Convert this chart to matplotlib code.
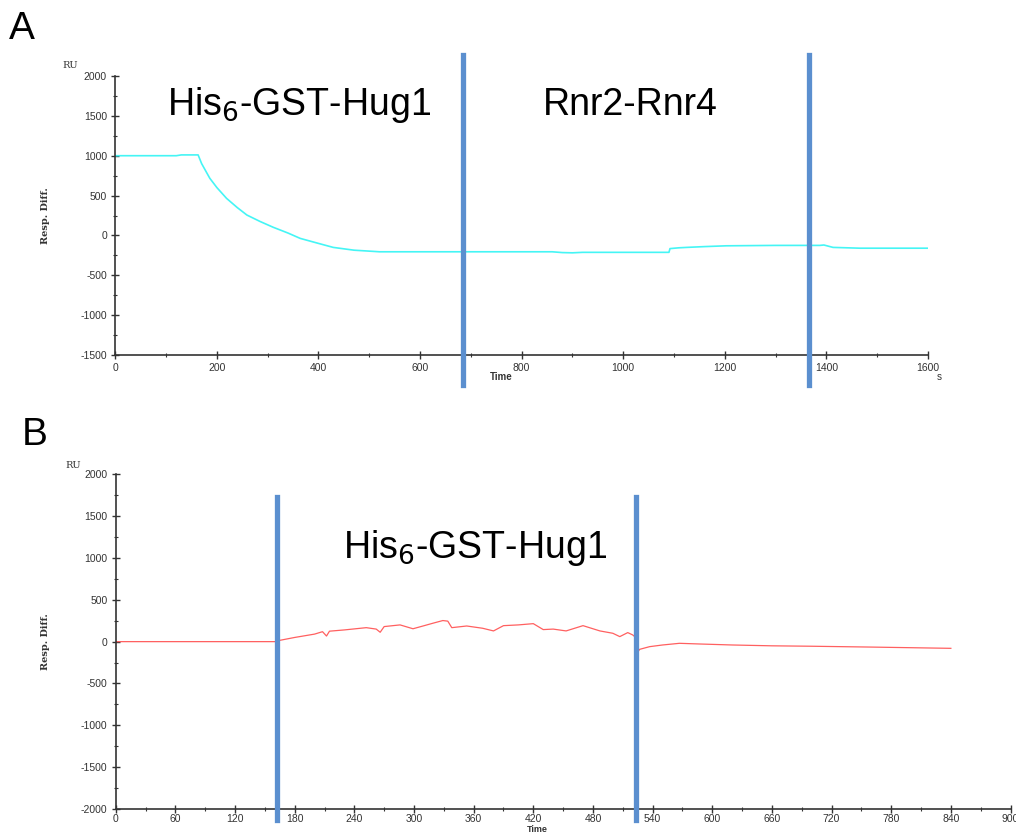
import matplotlib
matplotlib.use("Agg")
import matplotlib.pyplot as plt
from matplotlib.ticker import MultipleLocator

plt.rcParams["axes.unicode_minus"] = False

# Panel A sensorgram (time in s, response in RU)
time_a = [0, 60, 120, 130, 163, 170, 186, 200, 219, 240, 259, 285, 311, 340, 364, 400, 429,
          470, 508, 520, 700, 860, 880, 900, 920, 1000, 1090, 1092, 1110, 1125, 1160, 1203,
          1300, 1387, 1395, 1413, 1440, 1466, 1500, 1600]
resp_a = [1000, 1000, 1000, 1010, 1010, 900, 717, 600, 465, 350, 256, 175, 102, 30, -37, -100, -150,
          -185, -200, -205, -205, -205, -215, -218, -212, -212, -212, -165, -155, -150, -140, -130,
          -125, -125, -120, -150, -155, -160, -160, -160]

# Panel B sensorgram
time_b = [0, 100, 161, 162, 163.5, 180, 200, 208, 212, 215, 230, 252, 262, 266, 270, 286, 299,
          310, 319, 329, 334, 338, 353, 369, 380, 390, 405, 420, 430, 440, 453, 470, 487, 500,
          507, 515, 520, 522, 523, 527, 537, 550, 567, 587, 620, 660, 700, 760, 840]
resp_b = [0, 0, 0, 1700, 12, 50, 90, 119, 67, 125, 140, 167, 150, 112, 180, 200, 154,
          190, 220, 252, 245, 167, 187, 160, 128, 191, 200, 215, 144, 150, 128, 191, 128, 100,
          60, 108, 80, 60, -160, -92, -60, -40, -20, -28, -40, -50, -55, -65, -80]

markers_a = [684, 1365]
markers_b = [162, 523]
labels_a = [("His$_6$-GST-Hug1", 362), ("Rnr2-Rnr4", 1013)]
labels_b = [("His$_6$-GST-Hug1", 361)]

blue = "#5b8fcf"
tick_family = "Liberation Sans"
label_font = {"family": "DejaVu Serif", "size": 7, "weight": "bold", "color": "#333333"}

fig = plt.figure(figsize=(10.16, 8.34), dpi=100)
ax_a = fig.add_axes([0.1135, 0.5743, 0.7999, 0.3346])
ax_b = fig.add_axes([0.1139, 0.0300, 0.8807, 0.4013])


def style_axis(ax, xmax, xmaj, xmin, ymin, ymax, xpad=3):
    ax.set_xlim(0, xmax)
    ax.set_ylim(ymin, ymax)
    ax.xaxis.set_major_locator(MultipleLocator(xmaj))
    ax.xaxis.set_minor_locator(MultipleLocator(xmin))
    ax.yaxis.set_major_locator(MultipleLocator(500))
    ax.yaxis.set_minor_locator(MultipleLocator(250))
    for s in ["top", "right"]:
        ax.spines[s].set_visible(False)
    for s in ["left", "bottom"]:
        ax.spines[s].set_color("#333333")
        ax.spines[s].set_linewidth(1.2)
    ax.tick_params(which="major", direction="inout", length=6, width=1, color="#333333", pad=3)
    ax.tick_params(axis="x", which="major", pad=xpad)
    ax.tick_params(which="minor", direction="inout", length=3, width=0.8, color="#333333")
    for lbl in ax.get_xticklabels() + ax.get_yticklabels():
        lbl.set_fontfamily(tick_family)
        lbl.set_fontsize(7.5)
        lbl.set_color("#333333")


# Panel A
ax_a.plot(time_a, resp_a, color="#45f5f5", lw=1.2)
style_axis(ax_a, 1600, 200, 100, -1500, 2000)
for x in markers_a:
    ax_a.axvline(x, ymin=-0.1075, ymax=1.075, color=blue, lw=3.8, clip_on=False, zorder=5)
for txt, x in labels_a:
    ax_a.text(x, 1636, txt, fontsize=27, family="Liberation Sans", ha="center", va="center")
ax_a.set_ylabel("Resp. Diff.", fontdict=label_font, labelpad=22)
ax_a.text(-0.055, 1.03, "RU", transform=ax_a.transAxes, fontsize=7, family="DejaVu Serif",
          color="#333333", ha="center")
ax_a.text(0.475, -0.09, "Time", transform=ax_a.transAxes, fontsize=7, family="Liberation Sans",
          weight="bold", color="#333333", ha="center")
ax_a.text(1.014, -0.09, "s", transform=ax_a.transAxes, fontsize=7, family="Liberation Sans",
          color="#333333", ha="center")

# Panel B
ax_b.plot(time_b, resp_b, color="#ff6060", lw=0.9)
style_axis(ax_b, 900, 60, 30, -2000, 2000, xpad=0.5)
for x in markers_b:
    ax_b.axvline(x, ymin=-0.033, ymax=0.932, color=blue, lw=3.8, clip_on=False, zorder=5)
for txt, x in labels_b:
    ax_b.text(x, 1119, txt, fontsize=27, family="Liberation Sans", ha="center", va="center")
ax_b.set_ylabel("Resp. Diff.", fontdict=label_font, labelpad=22)
ax_b.text(-0.048, 1.02, "RU", transform=ax_b.transAxes, fontsize=7, family="DejaVu Serif",
          color="#333333", ha="center")
fig.text(0.529, 0.0, "Time", fontsize=6.5, family="Liberation Sans",
         weight="bold", color="#333333", ha="center", va="bottom")

fig.text(0.022, 0.965, "A", fontsize=28, family="Liberation Sans", ha="center", va="center")
fig.text(0.034, 0.478, "B", fontsize=28, family="Liberation Sans", ha="center", va="center")

fig.savefig("out.png", dpi=100)
